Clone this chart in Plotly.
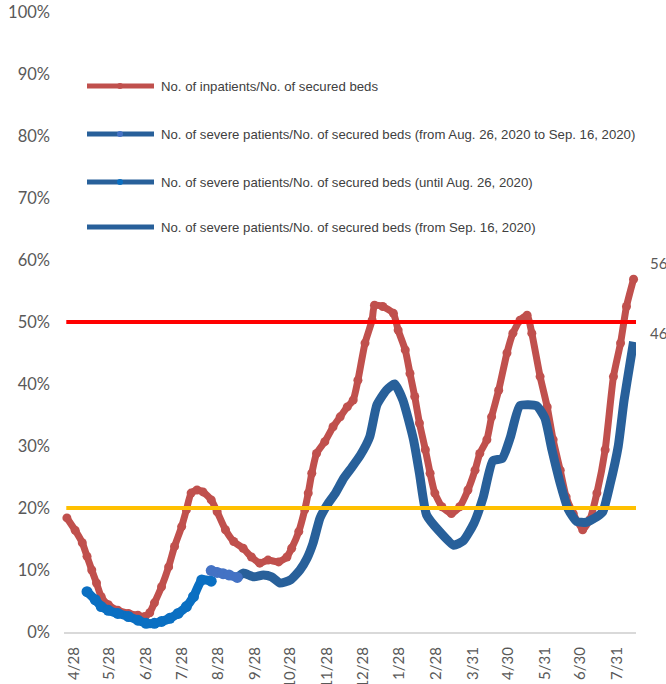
import plotly.graph_objects as go

# ---------------- data ----------------
inpatient_dates = [
    "2020-04-22", "2020-04-29", "2020-05-05", "2020-05-09", "2020-05-13", "2020-05-17",
    "2020-05-21", "2020-05-27", "2020-06-04", "2020-06-13", "2020-06-21", "2020-06-27",
    "2020-07-01", "2020-07-05", "2020-07-11", "2020-07-17", "2020-07-22", "2020-07-28",
    "2020-08-01", "2020-08-05", "2020-08-10", "2020-08-15", "2020-08-22", "2020-08-27",
    "2020-09-03", "2020-09-10", "2020-09-18", "2020-09-25", "2020-10-02", "2020-10-09",
    "2020-10-18", "2020-10-25", "2020-10-29", "2020-11-04", "2020-11-09", "2020-11-12",
    "2020-11-15", "2020-11-19", "2020-11-26", "2020-12-03", "2020-12-09", "2020-12-15",
    "2020-12-20", "2020-12-24", "2020-12-30", "2021-01-05", "2021-01-07", "2021-01-14",
    "2021-01-23", "2021-01-27", "2021-02-02", "2021-02-06", "2021-02-10", "2021-02-14",
    "2021-02-19", "2021-02-23", "2021-02-27", "2021-03-05", "2021-03-13", "2021-03-20",
    "2021-03-27", "2021-04-02", "2021-04-06", "2021-04-12", "2021-04-16", "2021-04-22",
    "2021-04-29", "2021-05-04", "2021-05-10", "2021-05-16", "2021-05-20", "2021-05-27",
    "2021-06-02", "2021-06-07", "2021-06-13", "2021-06-18", "2021-06-24", "2021-07-02",
    "2021-07-08", "2021-07-14", "2021-07-21", "2021-07-28", "2021-08-03", "2021-08-08",
    "2021-08-14",
]
inpatient_ratio = [
    0.184, 0.164, 0.144, 0.122, 0.100, 0.079,
    0.057, 0.044, 0.035, 0.030, 0.027, 0.025,
    0.031, 0.047, 0.073, 0.105, 0.138, 0.170,
    0.197, 0.224, 0.229, 0.226, 0.213, 0.194,
    0.165, 0.146, 0.135, 0.121, 0.111, 0.116,
    0.113, 0.121, 0.135, 0.162, 0.197, 0.224,
    0.256, 0.288, 0.307, 0.331, 0.347, 0.363,
    0.374, 0.406, 0.466, 0.503, 0.527, 0.525,
    0.514, 0.487, 0.455, 0.417, 0.380, 0.337,
    0.294, 0.256, 0.224, 0.202, 0.191, 0.202,
    0.229, 0.261, 0.288, 0.310, 0.347, 0.390,
    0.450, 0.482, 0.503, 0.511, 0.482, 0.412,
    0.363, 0.310, 0.261, 0.218, 0.191, 0.165,
    0.181, 0.224, 0.294, 0.412, 0.466, 0.525,
    0.569,
]

severe_until_dates = [
    "2020-05-09", "2020-05-16", "2020-05-21", "2020-05-27", "2020-06-04", "2020-06-13",
    "2020-06-21", "2020-06-28", "2020-07-05", "2020-07-11", "2020-07-18", "2020-07-25",
    "2020-08-01", "2020-08-07", "2020-08-14", "2020-08-22",
]
severe_until_ratio = [
    0.065, 0.052, 0.041, 0.035, 0.030, 0.025,
    0.019, 0.014, 0.014, 0.017, 0.022, 0.030,
    0.041, 0.057, 0.084, 0.082,
]

severe_mid_dates = ["2020-08-22", "2020-08-27", "2020-09-01", "2020-09-06", "2020-09-13"]
severe_mid_ratio = [0.099, 0.096, 0.094, 0.092, 0.088]

severe_from_dates = [
    "2020-09-13", "2020-09-18", "2020-09-27", "2020-10-05", "2020-10-12", "2020-10-19",
    "2020-10-28", "2020-11-05", "2020-11-11", "2020-11-16", "2020-11-22", "2020-11-28",
    "2020-12-05", "2020-12-12", "2020-12-19", "2020-12-26", "2021-01-03", "2021-01-09",
    "2021-01-17", "2021-01-24", "2021-01-31", "2021-02-09", "2021-02-14", "2021-02-20",
    "2021-03-03", "2021-03-15", "2021-03-23", "2021-04-01", "2021-04-09", "2021-04-17",
    "2021-04-25", "2021-05-02", "2021-05-10", "2021-05-24", "2021-05-31", "2021-06-06",
    "2021-06-13", "2021-06-20", "2021-06-27", "2021-07-05", "2021-07-14", "2021-07-19",
    "2021-07-25", "2021-08-01", "2021-08-06", "2021-08-11", "2021-08-14",
]
severe_from_ratio = [
    0.088, 0.095, 0.089, 0.092, 0.089, 0.079,
    0.084, 0.100, 0.119, 0.143, 0.184, 0.205,
    0.224, 0.248, 0.266, 0.285, 0.315, 0.366,
    0.390, 0.400, 0.374, 0.310, 0.256, 0.189,
    0.162, 0.140, 0.147, 0.175, 0.218, 0.276,
    0.280, 0.315, 0.365, 0.365, 0.345, 0.294,
    0.240, 0.197, 0.178, 0.177, 0.186, 0.194,
    0.237, 0.299, 0.374, 0.433, 0.468,
]

threshold_values = [0.50, 0.20]
threshold_colors = ["#FF0000", "#FFC000"]

tick_dates = [
    "2020-04-28", "2020-05-28", "2020-06-28", "2020-07-28", "2020-08-28", "2020-09-28",
    "2020-10-28", "2020-11-28", "2020-12-28", "2021-01-28", "2021-02-28", "2021-03-31",
    "2021-04-30", "2021-05-31", "2021-06-30", "2021-07-31",
]
tick_labels = [
    "4/28", "5/28", "6/28", "7/28", "8/28", "9/28",
    "10/28", "11/28", "12/28", "1/28", "2/28", "3/31",
    "4/30", "5/31", "6/30", "7/31",
]

legend_names = [
    "No. of inpatients/No. of secured beds",
    "No. of severe patients/No. of secured beds (from Aug. 26, 2020 to Sep. 16, 2020)",
    "No. of severe patients/No. of secured beds (until Aug. 26, 2020)",
    "No. of severe patients/No. of secured beds (from Sep. 16, 2020)",
]

# ---------------- styling ----------------
RED = "#C0504D"
DARK_BLUE = "#28609A"
BRIGHT_BLUE = "#0A6FC2"
LIGHT_BLUE = "#4472C4"
GREY_TXT = "#595959"

W, H = 666, 684
# plot area in window pixels
PL, PR, PT, PB = 64, 636, 12, 632


def px_x(px):
    return (px - PL) / (PR - PL)


def px_y(py):
    return (PB - py) / (PB - PT)


fig = go.Figure()

fig.add_trace(go.Scatter(
    x=inpatient_dates, y=inpatient_ratio, mode="lines+markers", name=legend_names[0],
    line=dict(color=RED, width=7, shape="spline", smoothing=0.5),
    marker=dict(color=RED, size=9), cliponaxis=False, showlegend=False,
))
fig.add_trace(go.Scatter(
    x=severe_from_dates, y=severe_from_ratio, mode="lines", name=legend_names[3],
    line=dict(color=DARK_BLUE, width=9, shape="spline", smoothing=0.5),
    showlegend=False,
))
fig.add_trace(go.Scatter(
    x=severe_until_dates, y=severe_until_ratio, mode="lines+markers", name=legend_names[2],
    line=dict(color=BRIGHT_BLUE, width=9, shape="spline", smoothing=0.5),
    marker=dict(color=BRIGHT_BLUE, size=11), cliponaxis=False, showlegend=False,
))
fig.add_trace(go.Scatter(
    x=severe_mid_dates, y=severe_mid_ratio, mode="lines+markers", name=legend_names[1],
    line=dict(color=LIGHT_BLUE, width=9),
    marker=dict(color=LIGHT_BLUE, size=11), cliponaxis=False, showlegend=False,
))

shapes = []
for v, c in zip(threshold_values, threshold_colors):
    shapes.append(dict(type="line", xref="paper", x0=0.004, x1=1, yref="y", y0=v, y1=v,
                       line=dict(color=c, width=4), layer="above"))

# manual legend (long line symbols as in the reference)
legend_rows = [86, 134, 182, 227]
legend_marker = [RED, LIGHT_BLUE, BRIGHT_BLUE, None]
legend_line = [RED, DARK_BLUE, DARK_BLUE, DARK_BLUE]
annotations = []
for name, row, lc, mc in zip(legend_names, legend_rows, legend_line, legend_marker):
    yy = px_y(row)
    shapes.append(dict(type="line", xref="paper", yref="paper", x0=px_x(87), x1=px_x(154),
                       y0=yy, y1=yy, line=dict(color=lc, width=5), layer="above"))
    if mc:
        shapes.append(dict(type="circle", xref="paper", yref="paper",
                           xsizemode="pixel", ysizemode="pixel",
                           xanchor=px_x(120), yanchor=yy, x0=-3, x1=3, y0=-3, y1=3,
                           fillcolor=mc, line=dict(width=0), layer="above"))
    annotations.append(dict(text=name, xref="paper", yref="paper", x=px_x(159), y=yy,
                            xanchor="left", yanchor="middle", showarrow=False,
                            font=dict(family="Liberation Sans, Arial", size=13.2, color="#404040")))

# end-of-series data labels (cut by the right edge as in the reference)
annotations.append(dict(text=f"{inpatient_ratio[-1]*100:.1f}%", x=inpatient_dates[-1],
                        y=inpatient_ratio[-1], xref="x", yref="y", xanchor="left",
                        yanchor="middle", xshift=14, yshift=16, showarrow=False,
                        font=dict(family="Lato", size=15, color=GREY_TXT)))
annotations.append(dict(text=f"{severe_from_ratio[-1]*100:.1f}%", x=severe_from_dates[-1],
                        y=severe_from_ratio[-1], xref="x", yref="y", xanchor="left",
                        yanchor="middle", xshift=14, yshift=9, showarrow=False,
                        font=dict(family="Lato", size=15, color=GREY_TXT)))

fig.update_layout(
    width=W, height=H,
    margin=dict(l=PL, r=W - PR, t=PT, b=H - PB, pad=0, autoexpand=False),
    paper_bgcolor="white", plot_bgcolor="white",
    showlegend=False,
    shapes=shapes, annotations=annotations,
    xaxis=dict(
        type="date", range=["2020-04-19 13:00", "2021-08-16 01:30"],
        tickvals=tick_dates, ticktext=tick_labels, tickangle=-90,
        tickfont=dict(family="Lato", size=15, color=GREY_TXT),
        showgrid=False, zeroline=False, showline=True, linecolor="#D9D9D9", linewidth=2,
        ticks="", ticklabelstandoff=7, automargin=False, ticklabeloverflow="allow",
    ),
    yaxis=dict(
        range=[0, 1], tickvals=[i / 10 for i in range(11)], tickformat=".0%",
        tickfont=dict(family="Lato", size=16.5, color=GREY_TXT),
        showgrid=False, zeroline=False, showline=False, ticks="", ticklabelstandoff=13,
        automargin=False, ticklabeloverflow="allow",
    ),
)

fig.write_html(
    "out.html",
    config={"displayModeBar": False},
    post_script="document.body.style.margin='0';document.body.style.overflow='hidden';",
)
